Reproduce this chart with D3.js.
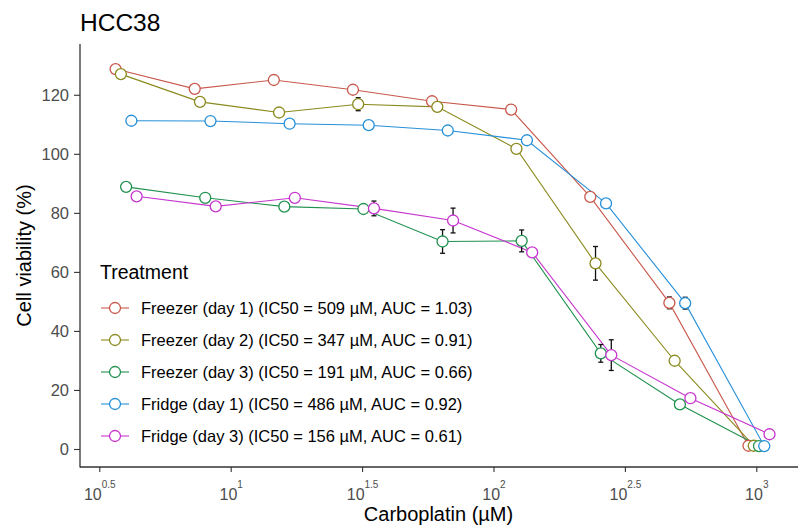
<!DOCTYPE html>
<html>
<head>
<meta charset="utf-8">
<script src="https://cdn.jsdelivr.net/npm/d3@7/dist/d3.min.js"></script>
<style>
  html, body { margin: 0; padding: 0; background: #fff; }
  svg { display: block; font-family: "Liberation Sans", Arial, sans-serif; }
</style>
</head>
<body>
<svg id="chart" width="798" height="529"></svg>
<script>
// Carboplatin concentrations (µM), two-fold dilution series
const concentrations = [4, 8, 16, 32, 64, 128, 256, 512, 1024];

const treatments = [
  "Freezer (day 1) (IC50 = 509 µM, AUC = 1.03)",
  "Freezer (day 2) (IC50 = 347 µM, AUC = 0.91)",
  "Freezer (day 3) (IC50 = 191 µM, AUC = 0.66)",
  "Fridge (day 1) (IC50 = 486 µM, AUC = 0.92)",
  "Fridge (day 3) (IC50 = 156 µM, AUC = 0.61)"
];

const colors = ["#C8584C", "#8A8A1E", "#21914F", "#2690D8", "#C634CE"];

// mean cell viability (%) per concentration
const freezerDay1 = [128.7, 122.0, 125.0, 121.7, 117.8, 115.0, 85.4, 49.5, 1.1];
const freezerDay2 = [127.0, 117.6, 114.0, 116.8, 115.9, 101.7, 62.9, 29.9, 1.1];
const freezerDay3 = [88.8, 85.1, 82.1, 81.3, 70.3, 70.5, 32.4, 15.1, 1.0];
const fridgeDay1  = [111.2, 111.1, 110.2, 109.7, 107.9, 104.6, 83.2, 49.4, 1.0];
const fridgeDay3  = [85.6, 82.2, 85.1, 81.5, 77.4, 66.6, 31.8, 17.2, 5.0];

// standard deviation per concentration
const freezerDay1Sd = [0, 0, 0, 0, 0, 0, 0, 2.0, 0];
const freezerDay2Sd = [0, 0, 0, 2.2, 0, 0, 5.7, 0, 0];
const freezerDay3Sd = [0, 0, 0, 0, 4.0, 3.7, 3.0, 0, 0];
const fridgeDay1Sd  = [0, 0, 0, 0, 0, 0, 0, 2.0, 0];
const fridgeDay3Sd  = [0, 0, 0, 2.5, 4.2, 0, 5.2, 0, 0];

const yTicks = [0, 20, 40, 60, 80, 100, 120];
const xTickExponents = ["0.5", "1", "1.5", "2", "2.5", "3"];

(function () {
  const means = [freezerDay1, freezerDay2, freezerDay3, fridgeDay1, fridgeDay3];
  const sds = [freezerDay1Sd, freezerDay2Sd, freezerDay3Sd, fridgeDay1Sd, fridgeDay3Sd];

  const series = treatments.map((name, i) => ({
    name, color: colors[i], index: i,
    points: concentrations.map((c, j) => ({ conc: c, y: means[i][j], sd: sds[i][j] }))
  }));

  const svg = d3.select("#chart");
  const pL = 80, pR = 797, pT = 44, pB = 467;
  const font = "Liberation Sans, Arial, sans-serif";

  const x = d3.scaleLog().domain([Math.pow(10, 0.4266), Math.pow(10, 3.1549)]).range([pL, pR]);
  const y = d3.scaleLinear().domain([-6.1, 137.2]).range([pB, pT]);

  // dodge groups sideways in log space so overlapping points stay visible
  const dodgeWidth = 0.1;
  const n = series.length;
  const px = (conc, i) => x(Math.pow(10, Math.log10(conc) + (i - (n - 1) / 2) * dodgeWidth / n));

  // title
  svg.append("text").attr("x", 80).attr("y", 31).attr("font-size", 24.5).attr("fill", "#000").text("HCC38");

  // axes
  const yAxis = d3.axisLeft(y).tickValues(yTicks).tickSize(6).tickPadding(5);
  const gy = svg.append("g").attr("transform", `translate(${pL},0)`).call(yAxis);
  gy.select(".domain").remove();
  gy.selectAll(".tick line").attr("stroke", "#333").attr("stroke-width", 1.1);
  gy.selectAll(".tick text").attr("fill", "#4D4D4D").attr("font-size", 16.5).attr("font-family", font);

  const xAxis = d3.axisBottom(x).tickValues(xTickExponents.map(e => Math.pow(10, +e))).tickSize(5).tickFormat("");
  const gx = svg.append("g").attr("transform", `translate(0,${pB})`).call(xAxis);
  gx.select(".domain").remove();
  gx.selectAll(".tick line").attr("stroke", "#333").attr("stroke-width", 1.1);
  gx.selectAll(".tick").each(function (d, i) {
    const t = d3.select(this).append("text")
      .attr("y", 33).attr("fill", "#4D4D4D").attr("text-anchor", "middle").attr("font-family", font);
    t.append("tspan").attr("font-size", 16).text("10");
    t.append("tspan").attr("font-size", 10).attr("dy", -12).text(xTickExponents[i]);
  });

  svg.append("line").attr("x1", pL).attr("x2", pL).attr("y1", pT).attr("y2", pB + 0.5)
    .attr("stroke", "#333").attr("stroke-width", 1.3);
  svg.append("line").attr("x1", pL).attr("x2", pR + 1).attr("y1", pB).attr("y2", pB)
    .attr("stroke", "#333").attr("stroke-width", 1.3);

  // axis titles
  svg.append("text").attr("x", (pL + pR) / 2).attr("y", 521).attr("text-anchor", "middle")
    .attr("font-size", 20).attr("fill", "#000").text("Carboplatin (µM)");
  svg.append("text").attr("transform", `translate(31,${(pT + pB) / 2}) rotate(-90)`)
    .attr("text-anchor", "middle").attr("font-size", 20).attr("fill", "#000").text("Cell viability (%)");

  // lines
  const line = d3.line();
  series.forEach(s => {
    svg.append("path")
      .attr("d", line(s.points.map(p => [px(p.conc, s.index), y(p.y)])))
      .attr("fill", "none").attr("stroke", s.color).attr("stroke-width", 1.1);
  });

  // error bars
  series.forEach(s => {
    const g = svg.append("g").attr("stroke", "#111").attr("stroke-width", 1.3);
    s.points.filter(p => p.sd > 0).forEach(p => {
      const cx = px(p.conc, s.index), y0 = y(p.y - p.sd), y1 = y(p.y + p.sd);
      g.append("line").attr("x1", cx).attr("x2", cx).attr("y1", y0).attr("y2", y1);
      g.append("line").attr("x1", cx - 2.5).attr("x2", cx + 2.5).attr("y1", y0).attr("y2", y0);
      g.append("line").attr("x1", cx - 2.5).attr("x2", cx + 2.5).attr("y1", y1).attr("y2", y1);
    });
  });

  // points
  series.forEach(s => {
    svg.append("g").selectAll("circle").data(s.points).join("circle")
      .attr("cx", p => px(p.conc, s.index)).attr("cy", p => y(p.y)).attr("r", 5.5)
      .attr("fill", "#fff").attr("stroke", s.color).attr("stroke-width", 1.3);
  });

  // legend
  const legend = svg.append("g");
  legend.append("text").attr("x", 100).attr("y", 279).attr("font-size", 19.5).attr("fill", "#000").text("Treatment");
  series.forEach((s, i) => {
    const cy = 308 + i * 32;
    legend.append("line").attr("x1", 101).attr("x2", 129).attr("y1", cy).attr("y2", cy)
      .attr("stroke", s.color).attr("stroke-width", 1.1);
    legend.append("circle").attr("cx", 115).attr("cy", cy).attr("r", 5.5)
      .attr("fill", "#fff").attr("stroke", s.color).attr("stroke-width", 1.3);
    legend.append("text").attr("x", 141).attr("y", cy + 6).attr("font-size", 16.5).attr("fill", "#000").text(s.name);
  });
})();
</script>
</body>
</html>
